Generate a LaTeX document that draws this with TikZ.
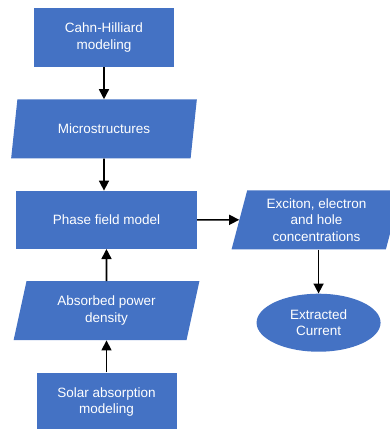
\documentclass[tikz,border=0pt]{standalone}
\usepackage{fontspec}
\setmainfont{Liberation Sans}
\usepackage{xcolor}
\definecolor{flowblue}{RGB}{68, 114, 196}
\usetikzlibrary{shapes.geometric, arrows.meta, positioning}

\begin{document}
\begin{tikzpicture}[
        procbox/.style={rectangle, fill=flowblue, text=white, align=center,
                    minimum width=140pt, minimum height=59pt, inner sep=2pt,
                    font=\fontsize{13.5}{16.5}\selectfont},
        databox/.style={trapezium, trapezium left angle=76, trapezium right angle=104,
                    trapezium stretches=true,
                    fill=flowblue, text=white, align=center,
                    minimum width=186pt, minimum height=59pt, inner sep=2pt,
                    font=\fontsize{13.5}{16.5}\selectfont},
        endbox/.style={ellipse, fill=flowblue, text=white, align=center,
                    minimum width=124pt, minimum height=58pt, inner sep=1pt,
                    font=\fontsize{13.5}{16.5}\selectfont},
        arrow/.style={-{Triangle[length=10pt, width=10pt]}, line width=1.6pt, black}
    ]
        \useasboundingbox (0pt,0pt) rectangle (390pt,-429pt);

        % Left column
        \node[procbox] (cahn) at (104pt,-37.5pt) {Cahn-Hilliard\\modeling};
        \node[databox, below=32pt of cahn] (micro) {Microstructures};
        \node[procbox, minimum width=181pt, minimum height=58pt,
              below=32pt of micro, xshift=2.5pt] (phase) {Phase field model};
        \node[databox, below=32pt of phase] (absorbed) {Absorbed power\\density};
        \node[procbox, below=32pt of absorbed] (solar) {Solar absorption\\modeling};

        % Right column
        \node[databox, minimum width=170pt, right=42pt of phase] (exciton)
            {Exciton, electron\\and hole\\concentrations};
        \node[endbox, below=44pt of exciton, xshift=2pt] (current) {Extracted\\Current};

        % Arrows
        \draw[arrow] (cahn) -- (micro);
        \draw[arrow] (micro) -- (micro |- phase.north);
        \draw[arrow] (solar) -- (solar |- absorbed.south);
        \draw[arrow] (absorbed) -- (absorbed |- phase.south);
        \draw[arrow] (phase) -- (exciton);
        \draw[arrow] (exciton.south -| current) -- (current);
    \end{tikzpicture}
\end{document}
